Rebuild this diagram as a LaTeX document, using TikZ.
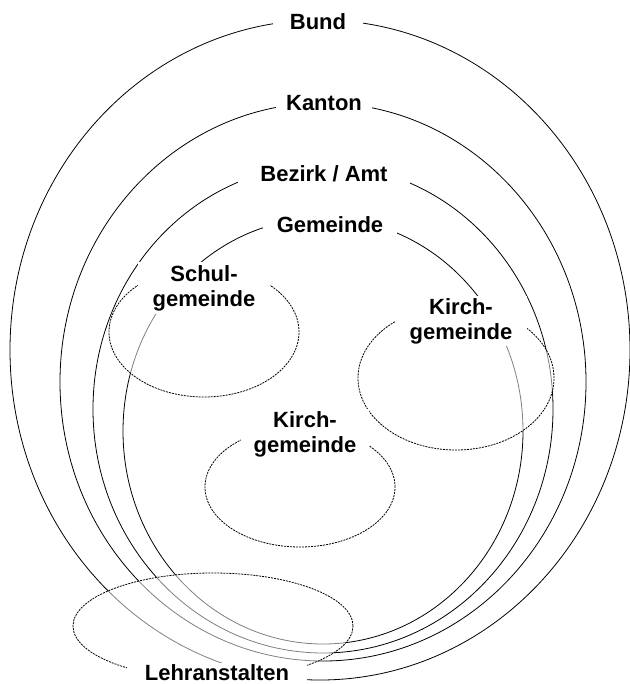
\documentclass[tikz,border=0pt]{standalone}
\usepackage{fontspec}
\setmainfont{Liberation Sans}
\usepackage{tikz}
\tikzset{
  level/.style={
    draw,
    line width=0.8pt
  },
  unit/.style={
    draw,
    line width=0.8pt,
    dash pattern=on 2pt off 1pt,
    fill=white,
    fill opacity=0.5
  },
  tag/.style={
    fill=white,
    font=\fontsize{22}{25}\selectfont\bfseries,
    align=center,
    inner xsep=0pt,
    inner ysep=2pt
  }
}

\begin{document}
\begin{tikzpicture}[
  x=1pt,
  y=-1pt
]

  \useasboundingbox (0,0) rectangle (629,684);

  % levels
  \draw[level] (320,350) ellipse [x radius=310pt, y radius=330pt];
  \draw[level] (323,382) ellipse [x radius=263pt, y radius=279pt];
  \draw[level] (323,409) ellipse [x radius=230pt, y radius=244pt];
  \draw[level] (323,431) ellipse [x radius=200pt, y radius=213pt];

  % special units
  \draw[unit] (204,332) ellipse [x radius=95pt, y radius=65pt];
  \draw[unit] (456,378) ellipse [x radius=98pt, y radius=72pt];
  \draw[unit] (300,487) ellipse [x radius=95pt, y radius=60pt];
  \draw[unit] (213,626) ellipse [x radius=140pt, y radius=53pt];

  \node[tag, minimum width=90pt] (bund) at (318,22) {Bund};
  \node[tag, minimum width=96pt] (kanton) at (324,103) {Kanton};
  \node[tag, minimum width=172pt, inner ysep=4pt] (bezirk) at (324,174) {Bezirk / Amt};
  \node[tag, minimum width=134pt, inner ysep=3pt] (gemeinde) at (330,225) {Gemeinde};

  \node[tag, minimum width=132pt, inner ysep=3pt] (schul) at (204,288) {Schul-\\gemeinde};
  \node[tag, minimum width=132pt] (kircheRechts) at (461,321) {Kirch-\\gemeinde};
  \node[tag, minimum width=128pt] (kircheMitte) at (305,434) {Kirch-\\gemeinde};
  \node[tag, minimum width=180pt] (lehr) at (217,673) {Lehranstalten};

\end{tikzpicture}
\end{document}
